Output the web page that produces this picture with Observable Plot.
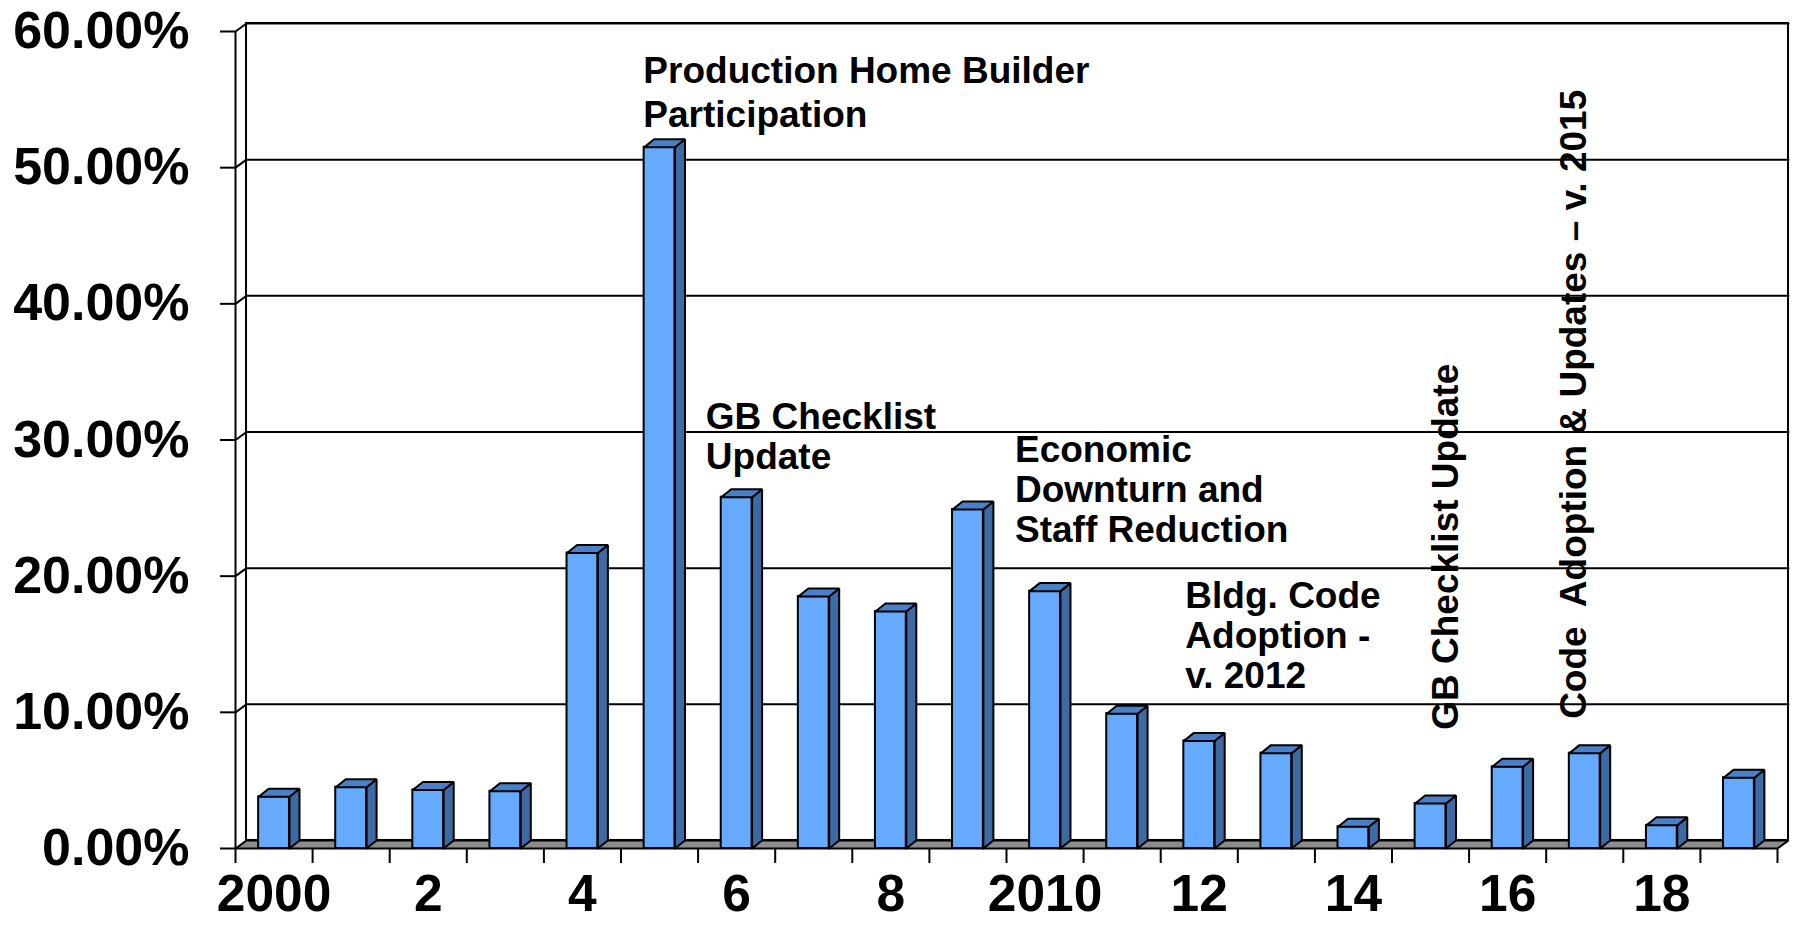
<!DOCTYPE html>
<html>
<head>
<meta charset="utf-8">
<script src="https://cdn.jsdelivr.net/npm/d3@7"></script>
<script src="https://cdn.jsdelivr.net/npm/@observablehq/plot@0.6"></script>
<style>
html, body { margin: 0; padding: 0; background: #fff; }
svg { display: block; }
</style>
</head>
<body>
<div id="chart"></div>
<script>
// ---- data ----
const years = [2000, 2001, 2002, 2003, 2004, 2005, 2006, 2007, 2008, 2009,
               2010, 2011, 2012, 2013, 2014, 2015, 2016, 2017, 2018, 2019];
const values = [3.8, 4.5, 4.3, 4.2, 21.7, 51.5, 25.8, 18.5, 17.4, 24.9,
                18.9, 9.9, 7.9, 7.0, 1.6, 3.3, 6.0, 7.0, 1.7, 5.2];
const xTickLabels = ["2000", "", "2", "", "4", "", "6", "", "8", "",
                     "2010", "", "12", "", "14", "", "16", "", "18", ""];
const yTicks = [0, 10, 20, 30, 40, 50, 60];
const annotationTexts = [
  "Production Home Builder\nParticipation",
  "GB Checklist\nUpdate",
  "Economic\nDownturn and\nStaff Reduction",
  "Bldg. Code\nAdoption -\nv. 2012",
  "GB Checklist Update",
  "Code\u00a0 Adoption & Updates \u2013 v. 2015"
];
const annotationYears = [2004.79, 2005.60, 2009.61, 2011.82, 2015.36, 2017.02];
const annotationValues = [52.98, 27.84, 22.54, 11.78, 8.72, 9.52];
const annotationAngles = [0, 0, 0, 0, -90, -90];
const annotationLineHeights = [1.2, 1.1, 1.08, 1.08, 1, 1];

// ---- geometry constants (data units) ----
const X0 = 1999.5, X1 = 2019.5, YMAX = 60;
const WALL_DX = 0.143, WALL_DY = 0.59;   // depth of the 3D walls
const BAR_DX = 0.13, BAR_DY = 0.59;      // depth of each 3D bar
const BAR_HALF = 0.2;                    // half width of bar front face
const TICK_X = 0.195, TICK_Y = 1.1;      // tick lengths

const data = years.map((year, i) => ({year, value: values[i], label: xTickLabels[i]}));
const boundaries = [...years.map(y => y - 0.5), years[years.length - 1] + 0.5];
const annotations = annotationTexts.map((text, i) => ({
  text, x: annotationYears[i], y: annotationValues[i], rotate: annotationAngles[i], lh: annotationLineHeights[i]
}));

const poly = (id, pts) => pts.concat([pts[0]]).map(([x, y]) => ({id, x, y}));

const sideFaces = data.flatMap(d => {
  const x = d.year + BAR_HALF;
  return poly(d.year, [[x, 0], [x + BAR_DX, BAR_DY], [x + BAR_DX, d.value + BAR_DY], [x, d.value]]);
});
const topFaces = data.flatMap(d => {
  const a = d.year - BAR_HALF, b = d.year + BAR_HALF, v = d.value;
  return poly(d.year, [[a, v], [b, v], [b + BAR_DX, v + BAR_DY], [a + BAR_DX, v + BAR_DY]]);
});
const floor = poly("floor", [[X0, 0], [X1, 0], [X1 + WALL_DX, WALL_DY], [X0 + WALL_DX, WALL_DY]]);
const gridlines = yTicks.filter(v => v > 0).flatMap(v => [
  {id: v, x: X0, y: v}, {id: v, x: X0 + WALL_DX, y: v + WALL_DY}, {id: v, x: X1 + WALL_DX, y: v + WALL_DY}
]);

const FONT = "'Liberation Sans', Arial, Helvetica, sans-serif";

const annotationMarks = [...new Set(annotationLineHeights)].map(lh =>
  Plot.text(annotations.filter(a => a.lh === lh), {x: "x", y: "y", text: "text", rotate: "rotate",
    textAnchor: "start", lineAnchor: "bottom", lineHeight: lh, fontSize: 37, fill: "black"})
);

const chart = Plot.plot({
  width: 1795,
  height: 933,
  marginLeft: 235,
  marginRight: 18,
  marginTop: 31,
  marginBottom: 85,
  style: {fontFamily: FONT, fontWeight: "bold", background: "white", overflow: "visible"},
  x: {type: "linear", domain: [X0, X1], axis: null},
  y: {type: "linear", domain: [0, YMAX], axis: null},
  marks: [
    // back wall
    Plot.rect([{}], {x1: X0 + WALL_DX, x2: X1 + WALL_DX, y1: WALL_DY, y2: YMAX + WALL_DY,
      fill: "white", stroke: "black", strokeWidth: 2}),
    // gridlines on left + back wall
    Plot.line(gridlines, {x: "x", y: "y", z: "id", stroke: "black", strokeWidth: 2, strokeLinejoin: "miter"}),
    // left wall front edge
    Plot.ruleX([X0], {y1: 0, y2: YMAX, stroke: "black", strokeWidth: 2}),
    // floor
    Plot.line(floor, {x: "x", y: "y", z: "id", fill: "#8c8c8c", stroke: "black", strokeWidth: 2, strokeLinejoin: "miter"}),
    // bars: front, side, top
    Plot.rect(data, {x1: d => d.year - BAR_HALF, x2: d => d.year + BAR_HALF, y1: 0, y2: "value",
      fill: "#66aaff", stroke: "black", strokeWidth: 2}),
    Plot.line(sideFaces, {x: "x", y: "y", z: "id", fill: "#3d6aa3", stroke: "black", strokeWidth: 2, strokeLinejoin: "miter"}),
    Plot.line(topFaces, {x: "x", y: "y", z: "id", fill: "#4a80c8", stroke: "black", strokeWidth: 2, strokeLinejoin: "miter"}),
    // y ticks and labels
    Plot.ruleY(yTicks, {x1: X0 - TICK_X, x2: X0, stroke: "black", strokeWidth: 2}),
    Plot.text(yTicks, {y: d => d, frameAnchor: "left", text: d => d.toFixed(2) + "%",
      textAnchor: "end", dx: -46, fontSize: 52, fill: "black"}),
    // x ticks and labels
    Plot.ruleX(boundaries, {y1: 0, y2: -TICK_Y, stroke: "black", strokeWidth: 2}),
    Plot.text(data.filter(d => d.label), {x: "year", text: "label", frameAnchor: "bottom",
      dy: 62.7, fontSize: 51.5, fill: "black"}),
    // annotations
    ...annotationMarks
  ]
});

document.getElementById("chart").appendChild(chart);
</script>
</body>
</html>
